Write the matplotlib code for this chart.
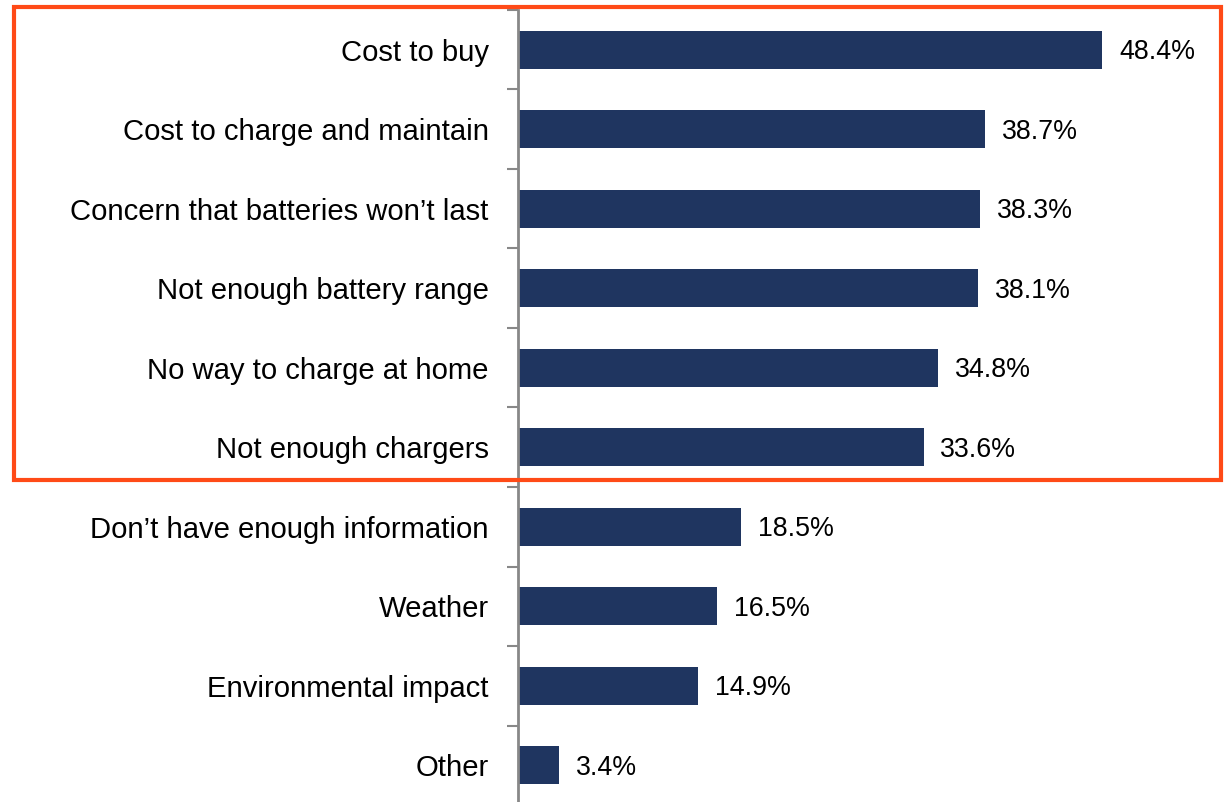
#!/usr/bin/python3
import numpy as np
import matplotlib.pyplot as plt
from matplotlib.patches import Rectangle

categories = ["Cost to buy",
              "Cost to charge and maintain",
              "Concern that batteries won\u2019t last",
              "Not enough battery range",
              "No way to charge at home",
              "Not enough chargers",
              "Don\u2019t have enough information",
              "Weather",
              "Environmental impact",
              "Other"]
values = [48.4, 38.7, 38.3, 38.1, 34.8, 33.6, 18.5, 16.5, 14.9, 3.4]

bar_color = '#1F3560'
box_color = '#FF4A17'
W, H = 1225, 802

plt.rcParams['font.family'] = ['Liberation Sans', 'DejaVu Sans']

fig = plt.figure(figsize=(W / 100, H / 100), dpi=100)
ax = fig.add_axes([518 / W, 1 - 805 / H, 1 - 518 / W, 795 / H])

y = np.arange(len(categories))
ax.barh(y, values, height=0.48, color=bar_color)
for yi, v in zip(y, values):
    ax.text(v + 1.4, yi + 0.03, "%.1f%%" % v, va='center', ha='left', fontsize=19.3)

ax.set_ylim(len(categories) - 0.5, -0.5)
ax.set_xlim(0, (W - 518) / 12.07)
ax.set_yticks(np.arange(len(categories) + 1) - 0.5, minor=False)
ax.set_yticklabels([])
ax.set_yticks(y, minor=True)
ax.set_yticklabels(categories, minor=True, fontsize=21.1)
ax.tick_params(axis='y', which='major', length=8, width=1.5, color='#888888')
ax.tick_params(axis='y', which='minor', length=0, pad=21)
ax.set_xticks([])
for side in ['top', 'right', 'bottom']:
    ax.spines[side].set_visible(False)
ax.spines['left'].set_color('#888888')
ax.spines['left'].set_linewidth(2)

# highlight box round the top six
fig.patches.append(Rectangle((14 / W, 1 - 480 / H), (1221 - 14) / W, (480 - 7) / H,
                             transform=fig.transFigure, fill=False,
                             edgecolor=box_color, linewidth=3, zorder=10))

fig.savefig('out.png', dpi=100)
